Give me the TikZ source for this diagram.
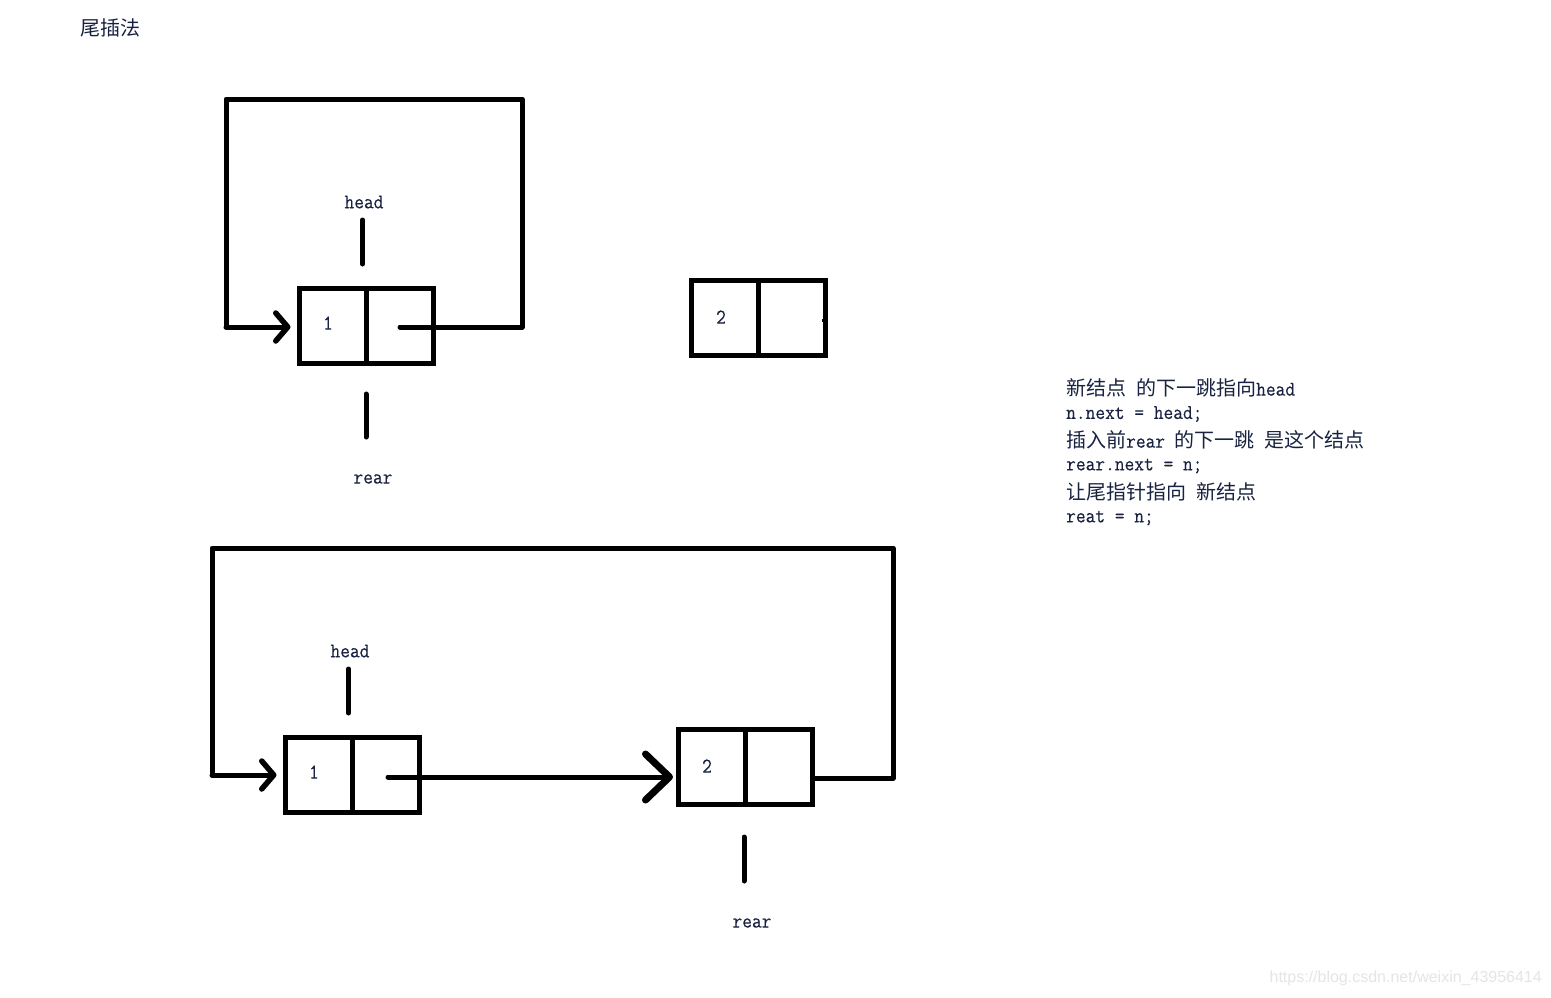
\documentclass[tikz,border=0pt]{standalone}
\usepackage{fontspec}
\usetikzlibrary{arrows.meta}
\newfontfamily\cjk{Noto Sans CJK SC}
\newfontfamily\lat{Latin Modern Mono}[FakeBold=0.25, FakeStretch=0.9]
\newfontfamily\wm{Liberation Sans}
\definecolor{ink}{RGB}{25,35,65}
\newcommand{\zh}[1]{{\cjk\fontsize{20}{22}\selectfont #1}}
\tikzset{
  cell/.style={draw, line width=5pt, minimum width=67pt, minimum height=75pt, inner sep=0pt, outer sep=0pt},
  wire/.style={line width=5pt, line cap=round, line join=round},
  barb/.style={-{Straight Barb[length=12pt,width=28pt,line width=5.5pt,round]}},
  bigbarb/.style={-{Straight Barb[length=24pt,width=46pt,line width=7pt,round]}},
  lab/.style={font=\lat\fontsize{21}{22}\selectfont, text=ink, inner sep=0pt},
  note/.style={anchor=west, inner sep=0pt, text=ink, font=\lat\fontsize{21}{22}\selectfont},
}
\begin{document}
\begin{tikzpicture}[x=1pt,y=-1pt]
\useasboundingbox[fill=white] (0,0) rectangle (1551,997);

% title
\node[note] (title) at (80,28) {\zh{尾插法}};

% ---------- top diagram ----------
\node[cell] (c1a) at (333,325.5) {};
\node[cell] (c1b) at (400,325.5) {};
\node[lab] (d1) at (328,323) {1};
\node[cell] (c2a) at (725,318) {};
\node[cell] (c2b) at (792,318) {};
\node[lab] (d2) at (721,317) {2};
\draw[line width=3pt] (c2b.east) ++(-3.5,2) -- ++(1.5,0);

\node[lab] (h1) at (364,202) {head};
\coordinate (h1a) at (362.5,220);
\coordinate (h1b) at (362.5,264);
\draw[wire] (h1a) -- (h1b);
\node[lab] (r1) at (373,479) {rear};
\coordinate (r1a) at (366,394);
\coordinate (r1b) at (366,437);
\draw[wire] (r1a) -- (r1b);

\coordinate (l1a) at (522,327);
\coordinate (l1b) at (522,99);
\coordinate (l1c) at (226,99);
\coordinate (l1d) at (226,327);
\draw[wire] (c1b.center |- l1a) -- (l1a) -- (l1b) -- (l1c) -- (l1d);
\draw[wire,barb,shorten >=9pt] (l1d) -- (c1a.west |- l1d);

% ---------- bottom diagram ----------
\node[cell] (c3a) at (319,774.5) {};
\node[cell] (c3b) at (386,774.5) {};
\node[lab] (d3) at (314,772) {1};
\node[cell] (c4a) at (711.5,767) {};
\node[cell] (c4b) at (778.5,767) {};
\node[lab] (d4) at (707,766) {2};

\node[lab] (h2) at (350,651) {head};
\coordinate (h2a) at (348.5,669);
\coordinate (h2b) at (348.5,713);
\draw[wire] (h2a) -- (h2b);
\node[lab] (r2) at (752,923) {rear};
\coordinate (r2a) at (744,837);
\coordinate (r2b) at (744,881);
\draw[wire] (r2a) -- (r2b);

\coordinate (m1) at (388,777);
\draw[wire,bigbarb,shorten >=5pt] (m1) -- (c4a.west |- m1);

\coordinate (l2s) at (813,778);
\coordinate (l2a) at (893,778);
\coordinate (l2b) at (893,548);
\coordinate (l2c) at (212,548);
\coordinate (l2d) at (212,775);
\draw[wire] (l2s) -- (l2a) -- (l2b) -- (l2c) -- (l2d);
\draw[wire,barb,shorten >=9pt] (l2d) -- (c3a.west |- l2d);

% ---------- notes ----------
\node[note] (t1) at (1066,388) {\zh{新结点}\hspace{10pt}\zh{的下一跳指向}head};
\node[note] (t2) at (1066,414) {n.next = head;};
\node[note] (t3) at (1066,440) {\zh{插入前}rear \zh{的下一跳}\hspace{10pt}\zh{是这个结点}};
\node[note] (t4) at (1066,466) {rear.next = n;};
\node[note] (t5) at (1066,492) {\zh{让尾指针指向}\hspace{10pt}\zh{新结点}};
\node[note] (t6) at (1066,518) {reat = n;};

% watermark
\node[anchor=east, inner sep=0pt, text=black!10, font=\wm\fontsize{16}{18}\selectfont] (wm) at (1542,978) {https://blog.csdn.net/weixin\_43956414};
\end{tikzpicture}
\end{document}
